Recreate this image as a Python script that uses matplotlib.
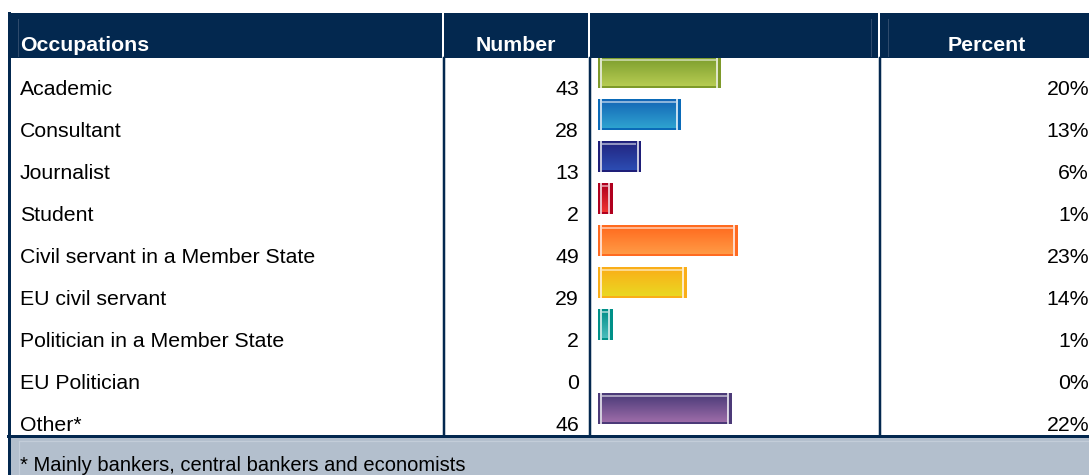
import numpy as np
import matplotlib.pyplot as plt
from matplotlib.colors import LinearSegmentedColormap

plt.rcParams['font.family'] = ['Liberation Sans', 'DejaVu Sans']

occupations = ["Academic", "Consultant", "Journalist", "Student",
               "Civil servant in a Member State", "EU civil servant",
               "Politician in a Member State", "EU Politician", "Other*"]
numbers = [43, 28, 13, 2, 49, 29, 2, 0, 46]
percents = [20, 13, 6, 1, 23, 14, 1, 0, 22]
headers = ["Occupations", "Number", "Percent"]
footnote = "* Mainly bankers, central bankers and economists"

# (top, bottom, edge) colours of each bar
bar_colors = [("#7E9E2E", "#B6CC52", "#7E9A2A"),
              ("#1466B6", "#2EA2D0", "#0A6AB8"),
              ("#222580", "#2C4CB2", "#1E1E78"),
              ("#B0001E", "#EE3530", "#B0001E"),
              ("#FF6A1E", "#FF9A45", "#FF6A20"),
              ("#FAAE18", "#EAD822", "#FAAE18"),
              ("#008E88", "#4ABCBC", "#009088"),
              ("#888888", "#AAAAAA", "#888888"),
              ("#4A3A78", "#9C6CA8", "#4C3A78")]

W, H = 1089, 475
navy = "#03284F"
fs = 15.3

fig = plt.figure(figsize=(W / 100, H / 100), dpi=100)
ax = fig.add_axes([0, 0, 1, 1])
ax.set_xlim(0, W)
ax.set_ylim(H, 0)
ax.axis("off")

px = 0.72  # one pixel in points

# header band
ax.fill_between([8, W + 5], 13, 58, color=navy, lw=0)
for x in [443, 589, 879]:
    ax.plot([x, x], [13, 58], color="white", lw=2 * px)
for x in [18, 871, 888]:
    ax.plot([x, x], [19, 56], color="#2E4A6C", lw=1 * px)

# footer band
ax.fill_between([8, W + 5], 436, H, color="#B3BFCD", lw=0)
ax.plot([19, W + 5], [441, 441], color="#C3CDD9", lw=1.2 * px)
ax.plot([19, 19], [441, H], color="#C3CDD9", lw=1.2 * px)

# body grid
for x in [443.5, 589.5, 879.5]:
    ax.plot([x, x], [58, 436], color=navy, lw=2.5 * px)
ax.plot([9, 9], [13, H], color=navy, lw=3 * px)
ax.plot([8, W + 5], [435.5, 435.5], color=navy, lw=3 * px)

# header text
ax.text(20, 51, headers[0], color="white", fontsize=fs, fontweight="bold", va="baseline")
ax.text(516, 51, headers[1], color="white", fontsize=fs, fontweight="bold", va="baseline", ha="center")
ax.text(987, 51, headers[2], color="white", fontsize=fs, fontweight="bold", va="baseline", ha="center")

row_h = 42
for i, (occ, n, p) in enumerate(zip(occupations, numbers, percents)):
    yb = 95 + row_h * i
    ax.text(20, yb, occ, fontsize=fs, va="baseline")
    ax.text(579, yb, str(n), fontsize=fs, va="baseline", ha="right")
    ax.text(1089, yb, f"{p}%", fontsize=fs, va="baseline", ha="right")

ax.text(20, 471, footnote, fontsize=14.5, va="baseline")

# bar column axes, percent on x, row index on y
scale = 5.68  # px per percent
x0 = 607.3    # pixel of 0 %
left_pad = 9.3 / scale
bx0, bx1, by0, by1 = 590, 878, 58, 436
bax = fig.add_axes([bx0 / W, 1 - by1 / H, (bx1 - bx0) / W, (by1 - by0) / H])
yc0 = 72.5
bax.axis("off")

ux = 1 / scale  # one pixel in x units
uy = 1 / row_h  # one pixel in y units
bh = 31 * uy
grad = np.linspace(0, 1, 64).reshape(-1, 1)

for i, p in enumerate(percents):
    if p <= 0:
        continue
    top_c, bot_c, edge_c = bar_colors[i]
    left = -left_pad
    right = p
    bax.barh(i, right - left, left=left, height=bh, color=edge_c, lw=0, zorder=1)
    cmap = LinearSegmentedColormap.from_list(f"g{i}", [top_c, bot_c])
    top = i - bh / 2
    bot = i + bh / 2
    bax.imshow(grad, cmap=cmap, aspect="auto", interpolation="bilinear",
               extent=[left + 4 * ux, right - 5 * ux, bot - 2 * uy, top + 1 * uy], zorder=2)
    # white gaps near both ends
    for gx in [left + 2.8 * ux, right - 3.8 * ux]:
        bax.plot([gx, gx], [top, bot], color="white", lw=1.5 * px, zorder=3, solid_capstyle="butt")
    # glossy highlight near the top
    bax.plot([left + 4 * ux, right - 5 * ux], [top + 3 * uy, top + 3 * uy],
             color="white", alpha=0.5, lw=2 * px, zorder=3, solid_capstyle="butt")

bax.set_xlim((bx0 - x0) / scale, (bx1 - x0) / scale)
bax.set_ylim((by1 - yc0) / row_h, (by0 - yc0) / row_h)

fig.savefig("out.png", dpi=100)
